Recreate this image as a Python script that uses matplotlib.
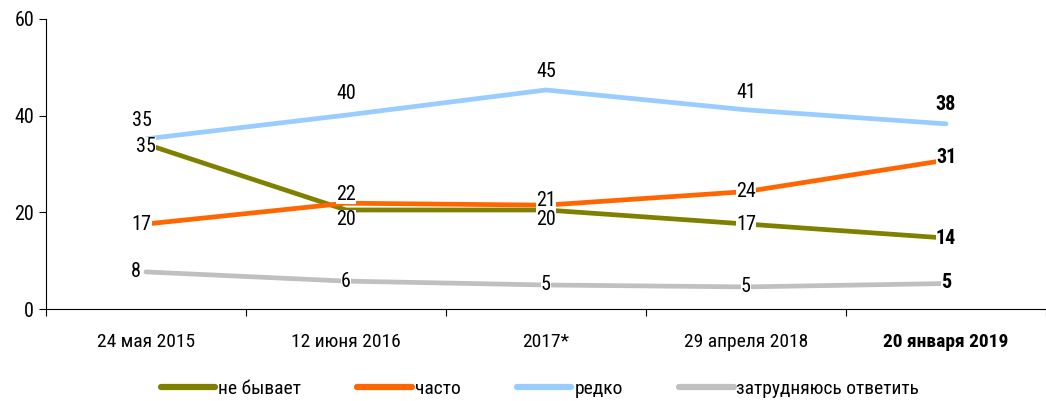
import matplotlib
matplotlib.use("Agg")
import matplotlib.pyplot as plt
from matplotlib import font_manager as fm
import numpy as np

names = {f.name for f in fm.fontManager.ttflist}
fam = [f for f in ["Roboto Condensed", "PT Sans Narrow", "DejaVu Sans"] if f in names] + ["DejaVu Sans"]
plt.rcParams['font.family'] = fam

categories = ["24 мая 2015", "12 июня 2016", "2017*", "29 апреля 2018", "20 января 2019"]
ne_byvaet = [34.1, 20.5, 20.5, 17.6, 14.7]
chasto = [17.6, 21.9, 21.5, 24.3, 30.8]
redko = [35.2, 40.1, 45.3, 41.2, 38.3]
zatrud = [7.7, 5.8, 5.0, 4.6, 5.3]

lab_ne = ["35", "20", "20", "17", "14"]
lab_ch = ["17", "22", "21", "24", "31"]
lab_re = ["35", "40", "45", "41", "38"]
lab_za = ["8", "6", "5", "5", "5"]

series = [
    ("не бывает", ne_byvaet, lab_ne, "#808000", [(0, -2), (0, -7), (0, -7), (0, 0), (0, 0)]),
    ("часто", chasto, lab_ch, "#FF6600", [(-3, 0), (0, 6), (0, 3), (0, 0), (0, 2)]),
    ("редко", redko, lab_re, "#99CCFF", [(-3, 13), (0, 15.5), (0, 13.5), (0, 12.5), (0, 14)]),
    ("затрудняюсь ответить", zatrud, lab_za, "#C0C0C0", [(-7, 0), (0, 0), (0, 0), (0, 0), (0, 1)]),
]

FS = 14
fig = plt.figure(figsize=(10.46, 4.01), dpi=100)
ax = fig.add_axes([0.044, 0.229, 0.956, 0.724])
x = np.arange(len(categories))
for name, vals, labs, col, offs in series:
    ax.plot(x, vals, color=col, lw=3.4, label=name, solid_capstyle='round', zorder=2)
for name, vals, labs, col, offs in series:
    for i, (v, l, o) in enumerate(zip(vals, labs, offs)):
        ax.annotate(l, (x[i], v), xytext=o, textcoords='offset points',
                    ha='center', va='center', fontsize=14.5,
                    fontweight='bold' if i == len(x) - 1 else 'normal',
                    bbox=dict(boxstyle='square,pad=0.0', fc='white', ec='none'), zorder=5)

ax.set_xlim(-0.5, 4.5)
ax.set_ylim(0, 60)
ax.set_yticks([0, 20, 40, 60])
ax.tick_params(axis='y', labelsize=14.5, length=5, direction='out')
ax.set_xticks(np.arange(-0.5, 4.6, 1.0))
ax.set_xticklabels([])
ax.set_xticks(x, minor=True)
ax.set_xticklabels(categories, minor=True, fontsize=FS)
ax.tick_params(axis='x', which='major', length=5, direction='out')
ax.tick_params(axis='x', which='minor', length=0, pad=17)
for t in ax.get_xticklabels(minor=True):
    if t.get_text() == categories[-1]:
        t.set_fontweight('bold')
ax.spines['top'].set_visible(False)
ax.spines['right'].set_visible(False)

leg = fig.legend(loc='center', bbox_to_anchor=(540 / 1046, 1 - 389 / 401), ncol=4, frameon=False,
                 fontsize=FS, handlelength=2.8, handletextpad=0.15, columnspacing=2.9)
for h in leg.get_lines():
    h.set_linewidth(4.5)
fig.savefig("out.png", dpi=100)
